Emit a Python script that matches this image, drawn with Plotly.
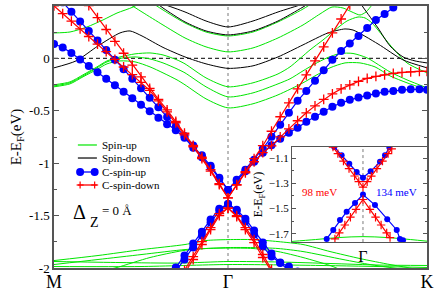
import plotly.graph_objects as go

SERIF = "Liberation Serif, Times New Roman, serif"
GREEN = "#00e600"
BLUE = "#0000ff"
RED = "#ff0000"
FRAME = "#555555"

# ---------------- high-symmetry path & axes ----------------
HS_K = [0.0, 1.74, 3.73]
HS_LABELS = ["M", "Γ", "K"]
E_RANGE = [-2.0, 0.5]
Y_TICKS = [-2, -1.5, -1, -0.5, 0, 0.5]
Y_TICKTEXT = ["-2", "-1.5", "-1", "-0.5", "0", "0.5"]
E_FERMI = 0.0
LEGEND_NAMES = ["Spin-up", "Spin-down", "C-spin-up", "C-spin-down"]

# ---------------- spin-up (green) bands ----------------
G1_K = [0.88, 1.09, 1.31, 1.52, 1.74, 1.99, 2.24, 2.49, 2.66]
G1_E = [0.595, 0.462, 0.338, 0.252, 0.214, 0.252, 0.348, 0.471, 0.576]
G2_K = [0.66, 0.88, 1.09, 1.31, 1.52, 1.74, 1.99, 2.24, 2.49, 2.66, 2.78, 2.89, 2.98, 3.06, 3.12, 3.18, 3.24]
G2_E = [0.576, 0.443, 0.319, 0.195, 0.110, 0.062, 0.100, 0.195, 0.319, 0.424, 0.490, 0.481, 0.443, 0.414, 0.443, 0.510, 0.586]
GA_K = [0.0, 0.16, 0.33, 0.49, 0.63, 0.79, 0.91]
GA_E = [0.243, 0.252, 0.300, 0.367, 0.433, 0.490, 0.557]
G3_K = [0.0, 0.16, 0.29, 0.43, 0.53, 0.66, 0.81, 0.96, 1.09, 1.23, 1.31, 1.52, 1.74, 1.99, 2.24, 2.36, 2.56, 2.69, 2.81, 2.93, 3.04, 3.11, 3.18, 3.36, 3.53, 3.73]
G3_E = [-0.252, -0.224, -0.157, -0.081, -0.024, 0.014, 0.043, 0.052, 0.033, -0.014, -0.052, -0.186, -0.271, -0.233, -0.148, -0.081, 0.081, 0.176, 0.271, 0.357, 0.395, 0.386, 0.338, 0.129, -0.043, -0.138]
G4_K = [0.0, 0.16, 0.29, 0.43, 0.53, 0.66, 0.81, 0.96, 1.09, 1.23, 1.31, 1.52, 1.74, 1.99, 2.24, 2.36, 2.49, 2.61, 2.73, 2.86, 2.99, 3.13, 3.36, 3.53, 3.73]
G4_E = [-0.262, -0.233, -0.167, -0.090, -0.033, 0.000, 0.014, -0.005, -0.043, -0.100, -0.138, -0.271, -0.367, -0.329, -0.243, -0.195, -0.119, -0.052, 0.005, 0.047, 0.047, 0.005, -0.129, -0.205, -0.281]
G5_K = [0.0, 0.16, 0.29, 0.43, 0.53, 0.66, 0.81, 0.96, 1.09, 1.23, 1.31, 1.52, 1.74, 1.99, 2.24, 2.49, 2.61, 2.76, 2.91, 3.06, 3.21, 3.36, 3.53, 3.73]
G5_E = [-0.271, -0.243, -0.176, -0.105, -0.052, -0.024, -0.033, -0.081, -0.138, -0.205, -0.252, -0.386, -0.472, -0.433, -0.348, -0.233, -0.167, -0.090, -0.043, -0.043, -0.081, -0.167, -0.233, -0.300]
L1_K = [0.0, 0.44, 0.88, 1.31, 1.52, 1.74, 1.99, 2.24, 2.49, 2.76, 3.06, 3.36, 3.53, 3.73]
L1_E = [-1.929, -1.881, -1.824, -1.776, -1.738, -1.729, -1.729, -1.748, -1.776, -1.843, -1.910, -1.967, -1.995, -2.033]
L2_K = [0.0, 0.44, 0.88, 1.31, 1.52, 1.74, 1.99, 2.24, 2.49, 2.89, 3.16, 3.36, 3.73]
L2_E = [-1.967, -1.919, -1.871, -1.824, -1.814, -1.805, -1.805, -1.814, -1.843, -1.919, -1.967, -1.995, -2.043]
L3_K = [0.46, 0.63, 0.96, 1.29, 1.52, 1.74, 1.99, 2.24, 2.49, 2.76, 2.86]
L3_E = [-2.033, -1.995, -1.900, -1.834, -1.814, -1.810, -1.814, -1.843, -1.900, -1.976, -2.014]
L4_K = [0.0, 0.66, 1.26, 1.74, 2.26, 2.76, 3.26, 3.73]
L4_E = [-1.938, -1.948, -1.953, -1.938, -1.943, -1.957, -1.972, -1.976]
L5_K = [0.0, 0.86, 1.74, 2.66, 3.73]
L5_E = [-1.986, -1.986, -1.967, -1.976, -1.995]

# ---------------- spin-down (black) bands ----------------
B1_K = [0.0, 0.22, 0.44, 0.66, 0.76, 0.88, 1.09, 1.31, 1.52, 1.74, 1.99, 2.24, 2.49, 2.74, 2.91, 2.99, 3.24, 3.49, 3.73]
B1_E = [-0.090, -0.024, 0.119, 0.243, 0.262, 0.214, 0.105, 0.014, -0.052, -0.095, -0.071, 0.014, 0.129, 0.243, 0.281, 0.271, 0.138, -0.014, -0.090]
B2_K = [2.99, 3.09, 3.24, 3.36, 3.49, 3.61, 3.73]
B2_E = [0.633, 0.490, 0.290, 0.119, 0.014, -0.024, -0.043]
B3_K = [0.76, 0.88, 1.09, 1.31, 1.52, 1.74, 1.99, 2.24, 2.49, 2.66, 2.76]
B3_E = [0.633, 0.586, 0.519, 0.443, 0.357, 0.300, 0.357, 0.443, 0.519, 0.576, 0.633]
B4_K = [0.88, 1.09, 1.31, 1.52, 1.74, 1.99, 2.24, 2.49, 2.66]
B4_E = [0.633, 0.481, 0.348, 0.262, 0.224, 0.262, 0.357, 0.490, 0.595]

# ---------------- C-projected bands (dense k grid) ----------------
K_DENSE = [0.0, 0.087, 0.174, 0.261, 0.348, 0.435, 0.522, 0.609, 0.696, 0.783, 0.87,
           0.957, 1.044, 1.131, 1.218, 1.305, 1.392, 1.479, 1.566, 1.653, 1.74,
           1.827, 1.914, 2.001, 2.088, 2.175, 2.262, 2.349, 2.436, 2.523, 2.61, 2.697,
           2.784, 2.871, 2.958, 3.045, 3.132, 3.219, 3.306, 3.393, 3.48, 3.567, 3.654, 3.73]
BLUE_A = [0.627, 0.535, 0.445, 0.353, 0.262, 0.170, 0.080, -0.012, -0.103, -0.193, -0.285,
          -0.376, -0.467, -0.558, -0.650, -0.741, -0.832, -0.923, -1.024, -1.138, -1.255,
          -1.157, -1.062, -0.967, -0.862, -0.748, -0.634, -0.519, -0.405, -0.310, -0.214, -0.114,
          -0.014, 0.071, 0.143, 0.214, 0.290, 0.367, 0.424, 0.486, 0.548, 0.605, 0.662, 0.719]
BLUE_B = [0.138, 0.105, 0.052, -0.010, -0.072, -0.133, -0.195, -0.257, -0.319, -0.381, -0.443,
          -0.505, -0.567, -0.629, -0.686, -0.757, -0.853, -0.943, -1.038, -1.148, -1.255,
          -1.167, -1.076, -0.986, -0.900, -0.829, -0.767, -0.710, -0.662, -0.605, -0.557, -0.510,
          -0.462, -0.424, -0.395, -0.372, -0.353, -0.334, -0.319, -0.310, -0.300, -0.295, -0.295, -0.300]
RED_1 = [0.501, 0.428, 0.355, 0.282, 0.209, 0.136, 0.064, -0.010, -0.082, -0.155, -0.228,
         -0.305, -0.405, -0.510, -0.614, -0.729, -0.843, -0.957, -1.076, -1.205, -1.330,
         -1.210, -1.091, -0.986, -0.900, -0.834, -0.748, -0.672, -0.595, -0.519, -0.453, -0.391,
         -0.338, -0.291, -0.253, -0.219, -0.191, -0.172, -0.157, -0.143, -0.134, -0.129, -0.124, -0.124]
RED_2 = [None, None, None, 0.617, 0.504, 0.390, 0.276, 0.163, 0.049, -0.064, -0.177,
         -0.286, -0.391, -0.491, -0.600, -0.714, -0.829, -0.943, -1.062, -1.195, -1.330,
         -1.205, -1.081, -0.957, -0.833, -0.695, -0.557, -0.424, -0.291, -0.157, -0.024, 0.110,
         0.243, 0.376, 0.510, 0.643, None, None, None, None, None, None, None, None]

K_VB = [1.131, 1.218, 1.305, 1.392, 1.479, 1.566, 1.653, 1.74, 1.827, 1.914, 2.001, 2.088,
        2.175, 2.262, 2.349, 2.436, 2.523]
BLUE_C = [-2.110, -1.995, -1.881, -1.767, -1.653, -1.538, -1.434, -1.389, -1.443, -1.529, -1.643,
          -1.757, -1.862, -1.948, -2.024, -2.110, None]
BLUE_D = [-2.148, -2.034, -1.919, -1.805, -1.691, -1.567, -1.453, -1.389, -1.453, -1.557, -1.681,
          -1.795, -1.891, -1.953, -1.986, -2.034, -2.110]
RED_C = [None, -2.157, -2.024, -1.891, -1.748, -1.614, -1.481, -1.428, -1.500, -1.614, -1.729,
         -1.871, -2.014, -2.157, None, None, None]
RED_D = [None, None, -2.053, -1.919, -1.776, -1.633, -1.500, -1.428, -1.510, -1.633, -1.757,
         -1.900, -2.033, None, None, None, None]

# ---------------- inset (zoom around Γ) ----------------
IN_X_RANGE = [1.231, 2.199]
IN_Y_RANGE = [-1.765, -1.012]
IN_Y_TICKS = [-1.7, -1.5, -1.3, -1.1]
IN_BLUE_CB_K = [1.534, 1.587, 1.642, 1.695, 1.74, 1.795, 1.862, 1.898, 1.929]
IN_BLUE_CB_E = [-1.013, -1.078, -1.145, -1.21, -1.255, -1.205, -1.13, -1.078, -1.015]
IN_BLUE_VB_K = [1.48, 1.527, 1.575, 1.623, 1.683, 1.74, 1.826, 1.914, 1.982, 2.005, 2.027]
IN_BLUE_VB_E = [-1.74, -1.669, -1.59, -1.525, -1.456, -1.389, -1.472, -1.585, -1.669, -1.74, -1.75]
IN_RED_CB_K = [1.525, 1.56, 1.6, 1.64, 1.68, 1.71, 1.74, 1.77, 1.80, 1.84, 1.88, 1.92, 1.946]
IN_RED_CB_E = [-1.013, -1.065, -1.124, -1.183, -1.242, -1.286, -1.33, -1.287, -1.243, -1.183, -1.124, -1.065, -1.027]
IN_RED_VB_K = [1.539, 1.57, 1.61, 1.65, 1.69, 1.74, 1.79, 1.83, 1.87, 1.91, 1.934]
IN_RED_VB_E = [-1.74, -1.692, -1.63, -1.568, -1.506, -1.428, -1.506, -1.568, -1.63, -1.692, -1.73]
IN_GREEN_K = [1.231, 1.4, 1.57, 1.74, 1.91, 2.08, 2.199]
IN_GREEN_E = [-1.76, -1.745, -1.729, -1.722, -1.729, -1.745, -1.758]
GAP_RED_LABEL = "98 meV"
GAP_BLUE_LABEL = "134 meV"

fig = go.Figure()

green_bands = [(L1_K, L1_E), (L2_K, L2_E), (L3_K, L3_E), (L4_K, L4_E), (L5_K, L5_E),
               (GA_K, GA_E), (G3_K, G3_E), (G4_K, G4_E), (G5_K, G5_E), (G2_K, G2_E), (G1_K, G1_E)]
for k, e in green_bands:
    fig.add_trace(go.Scatter(x=k, y=e, mode="lines", name=LEGEND_NAMES[0], showlegend=False,
                             hoverinfo="skip",
                             line=dict(color=GREEN, width=1, shape="spline", smoothing=0.7)))

black_bands = [(B1_K, B1_E), (B2_K, B2_E), (B3_K, B3_E), (B4_K, B4_E)]
for k, e in black_bands:
    fig.add_trace(go.Scatter(x=k, y=e, mode="lines", name=LEGEND_NAMES[1], showlegend=False,
                             hoverinfo="skip",
                             line=dict(color="black", width=1, shape="spline", smoothing=0.7)))

blue_bands = [(K_DENSE, BLUE_B), (K_DENSE, BLUE_A), (K_VB, BLUE_C), (K_VB, BLUE_D)]
for k, e in blue_bands:
    fig.add_trace(go.Scatter(x=k, y=e, mode="lines+markers", name=LEGEND_NAMES[2], showlegend=False,
                             hoverinfo="skip", line=dict(color=BLUE, width=1.2),
                             marker=dict(symbol="circle", size=8, color=BLUE)))

red_bands = [(K_DENSE, RED_1), (K_DENSE, RED_2), (K_VB, RED_C), (K_VB, RED_D)]
for k, e in red_bands:
    fig.add_trace(go.Scatter(x=k, y=e, mode="lines+markers", name=LEGEND_NAMES[3], showlegend=False,
                             hoverinfo="skip", line=dict(color=RED, width=1.2),
                             marker=dict(symbol="cross-thin", size=7, color=RED,
                                         line=dict(color=RED, width=1.3))))

# inset traces
fig.add_trace(go.Scatter(x=IN_GREEN_K, y=IN_GREEN_E, xaxis="x2", yaxis="y2", mode="lines",
                         showlegend=False, hoverinfo="skip",
                         line=dict(color=GREEN, width=1, shape="spline")))
for k, e in [(IN_BLUE_CB_K, IN_BLUE_CB_E), (IN_BLUE_VB_K, IN_BLUE_VB_E)]:
    fig.add_trace(go.Scatter(x=k, y=e, xaxis="x2", yaxis="y2", mode="lines+markers",
                             showlegend=False, hoverinfo="skip",
                             line=dict(color=BLUE, width=1.2),
                             marker=dict(symbol="circle", size=6, color=BLUE)))
for k, e in [(IN_RED_CB_K, IN_RED_CB_E), (IN_RED_VB_K, IN_RED_VB_E)]:
    fig.add_trace(go.Scatter(x=k, y=e, xaxis="x2", yaxis="y2", mode="lines+markers",
                             showlegend=False, hoverinfo="skip",
                             line=dict(color=RED, width=1.2),
                             marker=dict(symbol="cross-thin", size=6, color=RED,
                                         line=dict(color=RED, width=1.2))))

shapes = [
    dict(type="line", xref="x", yref="y", x0=HS_K[0], x1=HS_K[2], y0=E_FERMI, y1=E_FERMI,
         line=dict(color="#333333", width=1.2, dash="4px,3px"), layer="below"),
    dict(type="line", xref="x", yref="y", x0=HS_K[1], x1=HS_K[1], y0=E_RANGE[0], y1=E_RANGE[1],
         line=dict(color="#555555", width=0.8, dash="3px,3px"), layer="below"),
    dict(type="line", xref="x2", yref="y2", x0=HS_K[1], x1=HS_K[1], y0=IN_Y_RANGE[0], y1=IN_Y_RANGE[1],
         line=dict(color="#555555", width=0.8, dash="3px,3px"), layer="below"),
]
annotations = []

# ---- hand-made legend (compact, like the reference) ----
LEG_X0, LEG_X1, LEG_TX = 0.064, 0.115, 0.123
LEG_ROWS = [0.4695, 0.4198, 0.3664, 0.3168]
LEG_COLORS = [GREEN, "black", BLUE, RED]
for i, (name, yy, col) in enumerate(zip(LEGEND_NAMES, LEG_ROWS, LEG_COLORS)):
    shapes.append(dict(type="line", xref="paper", yref="paper", x0=LEG_X0, x1=LEG_X1, y0=yy, y1=yy,
                       line=dict(color=col, width=1.2 if i < 2 else 1.3), layer="above"))
    annotations.append(dict(text=name, xref="paper", yref="paper", x=LEG_TX, y=yy, xanchor="left",
                            yanchor="middle", showarrow=False, font=dict(family=SERIF, size=11)))
    for xe in (LEG_X0 + 0.006, LEG_X1 - 0.006):
        if i == 2:
            shapes.append(dict(type="circle", xref="paper", yref="paper", xsizemode="pixel",
                               ysizemode="pixel", xanchor=xe, yanchor=yy, x0=-4, x1=4, y0=-4, y1=4,
                               fillcolor=BLUE, line=dict(color=BLUE, width=0), layer="above"))
        elif i == 3:
            shapes.append(dict(type="line", xref="paper", yref="paper", xsizemode="pixel",
                               ysizemode="pixel", xanchor=xe, yanchor=yy, x0=-3.5, x1=3.5, y0=0, y1=0,
                               line=dict(color=RED, width=1.2), layer="above"))
            shapes.append(dict(type="line", xref="paper", yref="paper", xsizemode="pixel",
                               ysizemode="pixel", xanchor=xe, yanchor=yy, x0=0, x1=0, y0=-3.5, y1=3.5,
                               line=dict(color=RED, width=1.2), layer="above"))

annotations += [
    dict(text="Δ", xref="paper", yref="paper", x=0.046, y=0.212, xanchor="left", yanchor="middle",
         showarrow=False, font=dict(family=SERIF, size=20)),
    dict(text="Z", xref="paper", yref="paper", x=0.092, y=0.172, xanchor="left", yanchor="middle",
         showarrow=False, font=dict(family=SERIF, size=14)),
    dict(text="= 0 Å", xref="paper", yref="paper", x=0.124, y=0.218, xanchor="left", yanchor="middle",
         showarrow=False, font=dict(family=SERIF, size=13)),
    dict(text=GAP_RED_LABEL, xref="paper", yref="paper", x=0.713, y=0.29, xanchor="center",
         yanchor="middle", showarrow=False, font=dict(family=SERIF, size=11, color=RED)),
    dict(text=GAP_BLUE_LABEL, xref="paper", yref="paper", x=0.917, y=0.29, xanchor="center",
         yanchor="middle", showarrow=False, font=dict(family=SERIF, size=11, color=BLUE)),
]

fig.update_layout(
    width=436, height=291,
    margin=dict(l=54, r=9, t=6, b=23, autoexpand=False),
    paper_bgcolor="white", plot_bgcolor="white",
    font=dict(family=SERIF, size=13, color="black"),
    showlegend=False,
    shapes=shapes,
    annotations=annotations,
    xaxis=dict(domain=[0, 1], range=[HS_K[0], HS_K[2]], tickvals=HS_K, ticktext=HS_LABELS,
               ticks="", showgrid=False, zeroline=False, showline=True, mirror=True,
               linecolor=FRAME, linewidth=1.5, tickfont=dict(family=SERIF, size=18),
               ticklabelstandoff=-3, automargin=False),
    yaxis=dict(domain=[0, 1], range=E_RANGE, tickvals=Y_TICKS, ticktext=Y_TICKTEXT,
               ticks="inside", ticklen=5, tickcolor=FRAME,
               minor=dict(dtick=0.25, tick0=0, ticks="inside", ticklen=3, tickcolor=FRAME),
               showgrid=False, zeroline=False, showline=True, mirror="allticks",
               linecolor=FRAME, linewidth=1.5, tickfont=dict(family=SERIF, size=13),
               automargin=False,
               title=dict(text="E-E<sub>F</sub>(eV)", font=dict(family=SERIF, size=15), standoff=4)),
    xaxis2=dict(domain=[0.638, 1.0], anchor="y2", range=IN_X_RANGE, tickvals=[HS_K[1]],
                ticktext=[HS_LABELS[1]], ticks="", showgrid=False, zeroline=False,
                showline=True, mirror=True, linecolor=FRAME, linewidth=1.2,
                tickfont=dict(family=SERIF, size=16), automargin=False),
    yaxis2=dict(domain=[0.099, 0.462], anchor="x2", range=IN_Y_RANGE, tickvals=IN_Y_TICKS,
                ticks="inside", ticklen=4, tickcolor=FRAME,
                minor=dict(dtick=0.1, tick0=-1.1, ticks="inside", ticklen=2, tickcolor=FRAME),
                showgrid=False, zeroline=False, showline=True, mirror="allticks",
                linecolor=FRAME, linewidth=1.2, tickfont=dict(family=SERIF, size=11),
                automargin=False,
                title=dict(text="E-E<sub>F</sub>(eV)", font=dict(family=SERIF, size=12), standoff=3)),
)

fig.write_html("out.html", config={"displayModeBar": False},
               post_script="document.body.style.margin='0';document.body.style.overflow='hidden';")
